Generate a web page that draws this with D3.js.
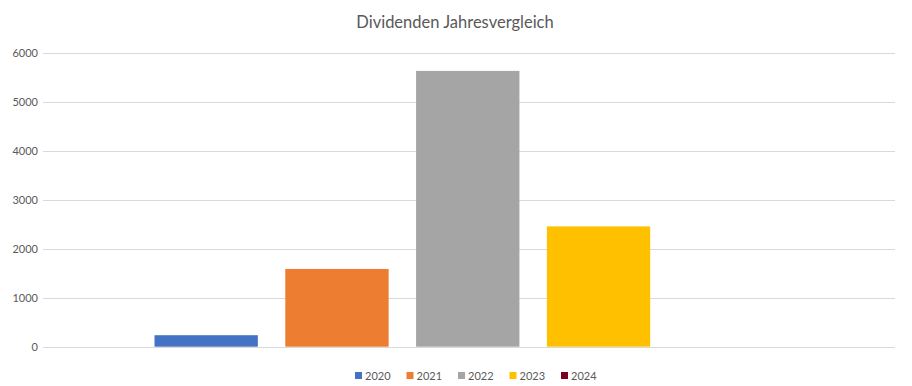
<!DOCTYPE html>
<html>
<head>
<meta charset="utf-8">
<script src="https://cdn.jsdelivr.net/npm/d3@7"></script>
<style>
  body { margin: 0; background: #fff; }
  text { font-family: Lato, "Open Sans", sans-serif; fill: #595959; }
</style>
</head>
<body>
<div id="chart"></div>
<script>
var title = "Dividenden Jahresvergleich";
var years = ["2020", "2021", "2022", "2023", "2024"];
var values = [235, 1590, 5640, 2460, 0];
var colors = ["#4472c4", "#ed7d31", "#a5a5a5", "#ffc000", "#7b0020"];
var yTicks = [0, 1000, 2000, 3000, 4000, 5000, 6000];

var width = 912, height = 386;
var plotLeft = 43, plotRight = 895, plotTop = 53.3, plotBottom = 346.7;

var svg = d3.select("#chart").append("svg")
    .attr("width", width)
    .attr("height", height);

var y = d3.scaleLinear().domain([0, 6000]).range([plotBottom, plotTop]);

// one category, five series side by side
var x = d3.scaleBand()
    .domain(years)
    .range([154.5, 781])
    .paddingInner(0.21)
    .paddingOuter(0);

// gridlines
svg.append("g").selectAll("line")
    .data(yTicks)
    .enter().append("line")
    .attr("x1", plotLeft)
    .attr("x2", plotRight)
    .attr("y1", function(d) { return Math.round(y(d)) + 0.5; })
    .attr("y2", function(d) { return Math.round(y(d)) + 0.5; })
    .style("stroke", "#d9d9d9")
    .style("stroke-width", 1);

// y axis labels
var yAxis = d3.axisLeft(y).tickValues(yTicks).tickFormat(d3.format("d")).tickSize(0).tickPadding(5);
var ga = svg.append("g")
    .attr("transform", "translate(" + plotLeft + ",0)")
    .call(yAxis);
ga.select(".domain").remove();
ga.selectAll("text")
    .style("font-size", "11px")
    .style("font-family", "Lato, sans-serif")
    .style("fill", "#595959");

// bars
svg.append("g").selectAll("rect")
    .data(values)
    .enter().append("rect")
    .attr("x", function(d, i) { return x(years[i]); })
    .attr("y", function(d) { return y(d); })
    .attr("width", x.bandwidth())
    .attr("height", function(d) { return y(0) - y(d); })
    .style("fill", function(d, i) { return colors[i]; });

// title
svg.append("text")
    .attr("x", 455)
    .attr("y", 28)
    .attr("text-anchor", "middle")
    .style("font-size", "16.5px")
    .text(title);

// legend
var legend = svg.append("g").selectAll("g")
    .data(years)
    .enter().append("g")
    .attr("transform", function(d, i) { return "translate(" + (355 + i * 51.5) + ",0)"; });
legend.append("rect")
    .attr("x", 0)
    .attr("y", 372)
    .attr("width", 7)
    .attr("height", 7)
    .style("fill", function(d, i) { return colors[i]; });
legend.append("text")
    .attr("x", 10)
    .attr("y", 380)
    .style("font-size", "11px")
    .text(function(d) { return d; });
</script>
</body>
</html>
